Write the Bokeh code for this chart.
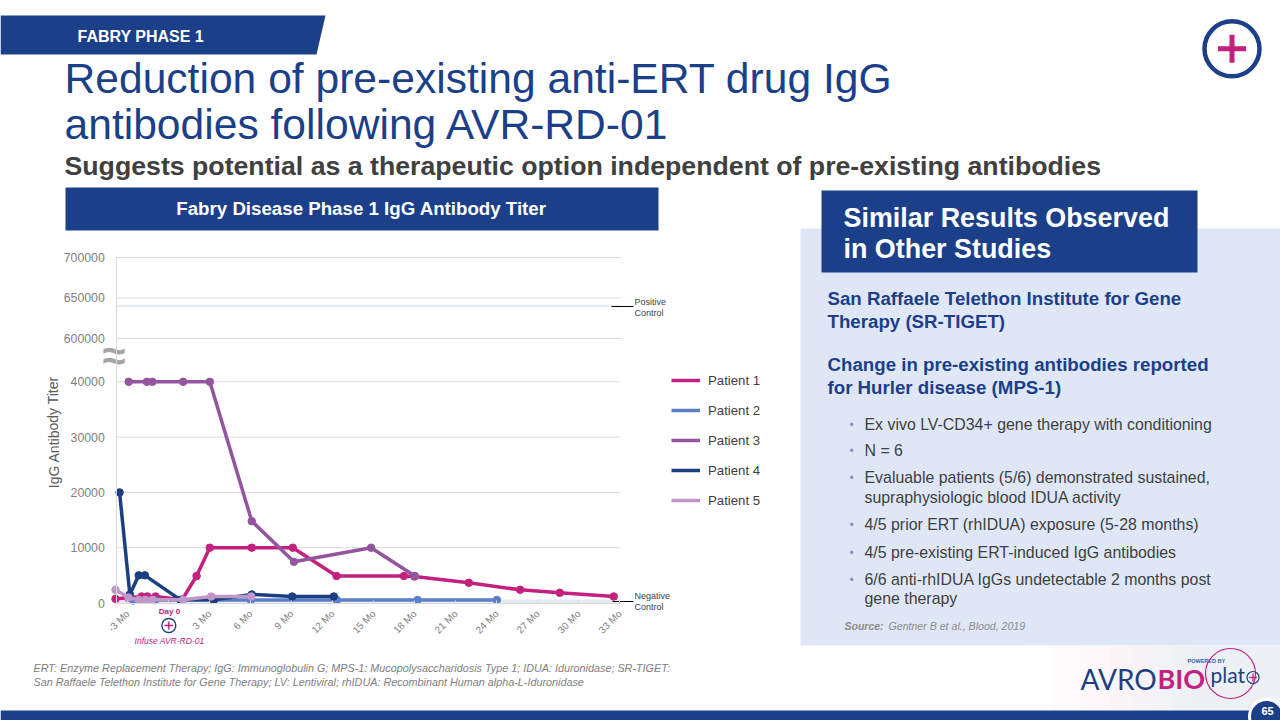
from bokeh.plotting import figure
from bokeh.models import Range1d, LinearAxis, FixedTicker, Legend, LegendItem
from bokeh.core.properties import value
from bokeh.embed import file_html
from bokeh.resources import INLINE

# ---- chart data ----
months_ticks = [-3, 0, 3, 6, 9, 12, 15, 18, 21, 24, 27, 30, 33]
month_labels = ["-3 Mo", "", "3 Mo", "6 Mo", "9 Mo", "12 Mo", "15 Mo", "18 Mo", "21 Mo", "24 Mo", "27 Mo", "30 Mo", "33 Mo"]
low_ticks = [0, 10000, 20000, 30000, 40000]
high_ticks = [600000, 650000, 700000]
positive_control = 640000
negative_control = 400

p1_x = [-3.9, -2.97, -2.0, -1.58, -0.97, 0.98, 2.03, 3.0, 6.07, 9.07, 12.27, 17.2, 17.97, 21.95, 25.7, 28.6, 32.55]
p1_y = [750, 940, 1180, 1180, 1180, 600, 4880, 10000, 10000, 10000, 4880, 4880, 4800, 3650, 2390, 1840, 1175]
p2_x = [-2.6, -1.0, 1.0, 3.3, 6.0, 12.3, 18.2, 24.0]
p2_y = [450, 500, 550, 550, 550, 550, 550, 550]
p3_x = [-2.93, -1.6, -1.2, 1.05, 3.0, 6.07, 9.15, 14.8, 18.0]
p3_y = [40000, 40000, 40000, 40000, 40000, 14800, 7450, 10000, 4880]
p4_x = [-3.6, -2.85, -2.2, -1.75, 0.85, 3.3, 6.07, 9.03, 12.07]
p4_y = [20000, 1550, 5000, 5000, 575, 575, 1545, 1180, 1180]
p5_x = [-3.9, -2.95, -2.2, -1.7, -1.2, 1.05, 3.1, 6.03]
p5_y = [2390, 1000, 575, 575, 575, 575, 1180, 1180]

series = [
    ("Patient 1", p1_x, p1_y, "#C4217F"),
    ("Patient 2", p2_x, p2_y, "#5B80C8"),
    ("Patient 3", p3_x, p3_y, "#93559E"),
    ("Patient 4", p4_x, p4_y, "#1C3F82"),
    ("Patient 5", p5_x, p5_y, "#BF97C9"),
]

# ---- layout ----
W, H = 1280, 720
PX_L, PX_R, PX_T, PX_B = 0, 1280, 0, 720
M0_PX, PX_PER_MONTH = 168.3, 13.67
Y0_PX, PX_PER_UNIT = 602.5, 55.3 / 10000
BREAK_BASE, BREAK_SLOPE = 47830, 7325 / 50000
AX_L, AX_R = 116.3, 620
NAVY, MAG = "#1C3F8A", "#C4217F"
SANS = "Liberation Sans"


def broken(v):
    return BREAK_BASE + (v - high_ticks[0]) * BREAK_SLOPE


def mx(px):
    return (px - M0_PX) / PX_PER_MONTH


def vy(py):
    return (Y0_PX - py) / PX_PER_UNIT


p = figure(width=W, height=H, output_backend="svg", toolbar_location=None,
           x_range=Range1d(mx(PX_L), mx(PX_R)), y_range=Range1d(vy(PX_B), vy(PX_T)),
           x_axis_type=None, y_axis_type=None, min_border=0)
p.outline_line_color = None
p.grid.visible = False
p.extra_x_ranges["px"] = Range1d(PX_L, PX_R)
p.extra_y_ranges["px"] = Range1d(PX_B, PX_T)
PX = dict(x_range_name="px", y_range_name="px")


def txt(x, y, s, size, color="#404040", style="normal", align="left", font=SANS, angle=0):
    p.text(x=[x], y=[y], text=[s], text_font=value(font), text_font_size=f"{size}px",
           text_color=color, text_font_style=style, text_align=align,
           text_baseline="middle", angle=angle, **PX)


def box(x0, x1, y0, y1, color):
    p.quad(left=[x0], right=[x1], top=[y0], bottom=[y1], fill_color=color, line_color=None, **PX)


# ---- slide decoration ----
p.patch([0, 325, 316, 0], [15, 15, 54, 54], fill_color=NAVY, line_color=None, **PX)
txt(77, 36, "FABRY PHASE 1", 16, "#FFFFFF", "bold")
txt(64, 77.5, "Reduction of pre-existing anti-ERT drug IgG", 42.6, NAVY)
txt(64, 123.5, "antibodies following AVR-RD-01", 42.6, NAVY)
txt(64, 165.5, "Suggests potential as a therapeutic option independent of pre-existing antibodies", 26.7, "#404040", "bold")

box(65, 658, 187, 230, NAVY)
txt(361, 207.5, "Fabry Disease Phase 1 IgG Antibody Titer", 18.7, "#FFFFFF", "bold", "center")

box(800, 1280, 228, 645, "#DFE7F6")
box(821, 1197, 190, 272, NAVY)
txt(843, 217, "Similar Results Observed", 26.9, "#FFFFFF", "bold")
txt(843, 248, "in Other Studies", 26.9, "#FFFFFF", "bold")
txt(827, 298, "San Raffaele Telethon Institute for Gene", 18.7, NAVY, "bold")
txt(827, 321, "Therapy (SR-TIGET)", 18.7, NAVY, "bold")
txt(827, 364, "Change in pre-existing antibodies reported", 18.7, NAVY, "bold")
txt(827, 387, "for Hurler disease (MPS-1)", 18.7, NAVY, "bold")
bullets = [
    (424, "Ex vivo LV-CD34+ gene therapy with conditioning", True),
    (450, "N = 6", True),
    (477, "Evaluable patients (5/6) demonstrated sustained,", True),
    (497, "supraphysiologic blood IDUA activity", False),
    (524, "4/5 prior ERT (rhIDUA) exposure (5-28 months)", True),
    (552, "4/5 pre-existing ERT-induced IgG antibodies", True),
    (579, "6/6 anti-rhIDUA IgGs undetectable 2 months post", True),
    (598, "gene therapy", False),
]
for y, s, mark in bullets:
    txt(864, y, s, 15.9)
    if mark:
        txt(849, y, "•", 12, "#7F93CF")
txt(844, 625, "Source:", 10.5, "#8C8C8C", "bold italic")
txt(888, 625, "Gentner B et al., Blood, 2019", 10.6, "#8C8C8C", "italic")

txt(33, 667, "ERT: Enzyme Replacement Therapy; IgG: Immunoglobulin G; MPS-1: Mucopolysaccharidosis Type 1; IDUA: Iduronidase; SR-TIGET:", 10.8, "#808080", "italic")
txt(33, 681, "San Raffaele Telethon Institute for Gene Therapy; LV: Lentiviral; rhIDUA: Recombinant Human alpha-L-Iduronidase", 10.8, "#808080", "italic")

# logo backdrop
strip_edges = [1020, 1050, 1080, 1110, 1130, 1150, 1170, 1190, 1280]
strip_cols = ["#FFFEFF", "#FFFBFC", "#FEF8FA", "#FBF5F8", "#F7F3F7", "#F3F2F6", "#F0F1F5", "#EDF0F4"]
for i, c in enumerate(strip_cols):
    box(strip_edges[i], strip_edges[i + 1], 645, 710, c)
txt(1080, 678, "AVRO", 28, "#1C3F82", font="Lato")
txt(1157, 678, "BIO", 27, MAG, "bold", font="Lato")
p.circle(x=[1230], y=[673], radius=25, fill_color=None, line_color=MAG, line_width=1.2, **PX)
txt(1187, 660.7, "POWERED BY", 5.5, "#2F5FB5", "bold")
txt(1210, 674, "plat", 21, "#1C3F82", font="Lato")
p.circle(x=[1252.5], y=[677], radius=6, fill_color=None, line_color="#1C3F82", line_width=1.2, **PX)
p.segment(x0=[1248.5, 1252.5], y0=[677, 673], x1=[1256.5, 1252.5], y1=[677, 681], line_color=MAG, line_width=1.3, **PX)

box(0, 1280, 710, 720, NAVY)
p.circle(x=[1266], y=[716], radius=17, fill_color=NAVY, line_color="#FFFFFF", line_width=3, **PX)
txt(1267, 710, "65", 11, "#FFFFFF", "bold", "center")

p.circle(x=[1231.5], y=[48.3], radius=27.5, fill_color="#FFFFFF", line_color=NAVY, line_width=4.5, **PX)
p.segment(x0=[1217.5, 1231.5], y0=[48.3, 34.3], x1=[1245.5, 1231.5], y1=[48.3, 62.3], line_color=MAG, line_width=5, **PX)

# ---- chart furniture ----
tick_vals = low_ticks + [broken(v) for v in high_ticks]
tick_text = [str(v) for v in low_ticks + high_ticks]
for v in tick_vals:
    p.segment(x0=[mx(AX_L)], x1=[mx(AX_R)], y0=[v], y1=[v], line_color="#D9D9D9", line_width=1)
p.segment(x0=[mx(AX_L)], x1=[mx(AX_R)], y0=[broken(positive_control)], y1=[broken(positive_control)],
          line_color="#E8ECF4", line_width=2.5)
p.segment(x0=[mx(AX_L)], x1=[mx(AX_R)], y0=[negative_control], y1=[negative_control],
          line_color="#E3E8F4", line_width=2.5)

yaxis = LinearAxis(fixed_location=mx(AX_L), bounds=(0, broken(high_ticks[-1])),
                   ticker=FixedTicker(ticks=tick_vals),
                   major_label_overrides={k: t for k, t in zip(tick_vals, tick_text)},
                   major_tick_line_color=None, minor_tick_line_color=None,
                   major_tick_out=0, major_tick_in=0,
                   axis_line_color="#D9D9D9", major_label_standoff=12,
                   major_label_text_font=SANS, major_label_text_font_size="12.3px",
                   major_label_text_color="#7F7F7F")
p.add_layout(yaxis, "left")
xaxis = LinearAxis(fixed_location=0, bounds=(mx(AX_L), mx(AX_R)),
                   ticker=FixedTicker(ticks=months_ticks),
                   major_label_overrides={k: t for k, t in zip(months_ticks, month_labels)},
                   major_tick_line_color="#D9D9D9", minor_tick_line_color=None,
                   major_tick_out=0, major_tick_in=3,
                   axis_line_color="#D9D9D9", major_label_standoff=9,
                   major_label_orientation=0.785,
                   major_label_text_font=SANS, major_label_text_font_size="10px",
                   major_label_text_color="#7F7F7F")
p.add_layout(xaxis, "below")
txt(53, 431.5, "IgG Antibody Titer", 14, "#595959", align="center", angle=1.5708)

# ---- series ----
items = []
for name, xs, ys, col in series:
    r = p.line(xs, ys, line_color=col, line_width=3.5)
    p.scatter(xs, ys, size=7.5, fill_color=col, line_color=col, marker="circle")
    items.append(LegendItem(label=name, renderers=[r]))
legend = Legend(items=items, location=(671, 210), padding=0, margin=0, spacing=10,
                glyph_width=29, glyph_height=20, label_standoff=8,
                background_fill_alpha=0, border_line_color=None,
                label_text_font=SANS, label_text_font_size="13.2px", label_text_color="#404040")
p.add_layout(legend)

# ---- chart annotations ----
txt(102, 355, "≈", 42, "#A6A6A6", "bold", font="Liberation Sans")
p.segment(x0=[611, 612], y0=[306, 601], x1=[633, 633], y1=[306, 601], line_color="#000000", line_width=1, **PX)
txt(634, 301, "Positive", 9, "#404040")
txt(634, 312, "Control", 9, "#404040")
txt(634, 595, "Negative", 9, "#404040")
txt(634, 606, "Control", 9, "#404040")
txt(169, 611, "Day 0", 8, MAG, "bold", "center")
p.circle(x=[168.3], y=[625], radius=7, fill_color="#FFFFFF", line_color=NAVY, line_width=1.4, **PX)
p.segment(x0=[164, 168.3], y0=[625, 621], x1=[172.6, 168.3], y1=[625, 629], line_color=MAG, line_width=1.4, **PX)
txt(169, 640, "Infuse AVR-RD-01", 8.5, MAG, "italic", "center")

open("out.html", "w").write(file_html(p, INLINE))
